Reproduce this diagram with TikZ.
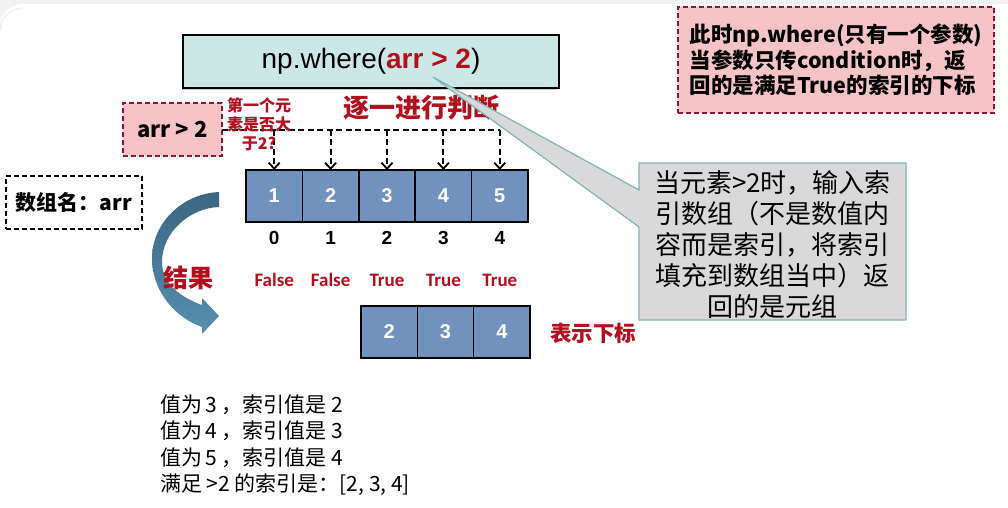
\documentclass[tikz,border=0pt]{standalone}
\usepackage{fontspec}
\setmainfont{Liberation Sans}
\newfontfamily\cjk{Noto Sans CJK SC}
\newfontfamily\calf{Carlito}
\usetikzlibrary{arrows.meta,calc}
\definecolor{dred}{RGB}{178,16,30}
\definecolor{pinkfill}{RGB}{246,196,198}
\definecolor{pinkedge}{RGB}{150,20,55}
\definecolor{tealfill}{RGB}{204,232,230}
\definecolor{cellblue}{RGB}{112,146,188}
\definecolor{calloutfill}{RGB}{217,217,217}
\definecolor{calloutedge}{RGB}{125,182,182}
\definecolor{arctop}{RGB}{58,102,128}
\definecolor{arcbot}{RGB}{88,142,176}
\begin{document}
\begin{tikzpicture}[x=1pt,y=-1pt,
  every node/.style={inner sep=0pt, outer sep=0pt},
  pinkbox/.style={draw=pinkedge, fill=pinkfill, line width=1.5pt, dash pattern=on 5pt off 3pt},
  namebox/.style={draw=black, line width=1.5pt, dash pattern=on 5pt off 3pt},
  wherebox/.style={draw=black, fill=tealfill, line width=1.6pt},
  cell/.style={draw=black, fill=cellblue, line width=1.5pt, minimum width=56.4pt, minimum height=52pt, text=white, font=\fontsize{20}{24}\selectfont\bfseries},
  idx/.style={font=\fontsize{19}{22}\selectfont\bfseries},
  tf/.style={text=dred, font=\calf\fontsize{19}{22}\selectfont\bfseries},
  dashline/.style={line width=2pt, dash pattern=on 6pt off 3.5pt},
  dasharrow/.style={dashline, -{Straight Barb[length=6pt,width=11pt,line width=1.8pt]}},
  redtext/.style={text=dred},
]
% background and frame
\useasboundingbox (0,0) rectangle (1008,507);
\fill[white] (0,0) rectangle (1008,507);
\fill[gray!10] (0,0) rectangle (1008,4);
\fill[gray!10] (0,0) rectangle (30,30);
\fill[white, rounded corners=22pt] (0.6,4) rectangle (1040,540);
\draw[gray!18, line width=0.8pt] (0.6,30) arc[start angle=180, end angle=270, x radius=22pt, y radius=-22pt];

% np.where box
\fill[gray!40] (181.5,36) rectangle (557,89.5);
\node[wherebox, minimum width=376pt, minimum height=53pt] (where) at (371,61.5)
  {\fontsize{28}{32}\selectfont np.where(\textcolor{dred}{\bfseries arr > 2})};

% note box top right
\node[pinkbox, minimum width=316pt, minimum height=106pt, align=left,
      font=\cjk\bfseries\fontsize{21.5}{25.5}\selectfont] (note) at (836,60)
  {此时np.where(只有一个参数)\\当参数只传condition时，返\\回的是满足True的索引的下标};

% arr > 2 box
\node[pinkbox, minimum width=99pt, minimum height=53pt, font=\cjk\bfseries\fontsize{22}{26}\selectfont] (gt) at (172.5,129.5)
  {arr > 2};

% name box
\node[namebox, minimum width=136pt, minimum height=53pt, font=\cjk\bfseries\fontsize{21}{25}\selectfont] (name) at (74,202.5)
  {数组名：arr};

% array cells
\foreach \i/\v in {1/1,2/2,3/3,4/4,5/5} {
  \node[cell] (c\i) at ({246+56.4*(\i-0.5)},196) {\v};
}
\foreach \i/\v in {1/0,2/1,3/2,4/3,5/4} {
  \node[idx] (i\i) at (c\i |- 0,238) {\v};
}
\foreach \i/\v in {1/False,2/False,3/True,4/True,5/True} {
  \node[tf] (t\i) at (c\i |- 0,280) {\v};
}

% result cells
\foreach \i/\v in {1/2,2/3,3/4} {
  \node[cell, minimum width=56.3pt] (r\i) at ({361+56.33*(\i-0.5)},332) {\v};
}
\node[redtext, font=\cjk\bfseries\fontsize{21.5}{25}\selectfont] (mark) at (593,333) {表示下标};

% dashed distribution lines
\draw[dashline] (gt.east) -- (c5.north |- gt.east);
\foreach \i in {1,...,5} {
  \draw[dasharrow] (c\i.north |- gt.east) -- (c\i.north);
}
\node[redtext, align=center, font=\cjk\bfseries\fontsize{16}{19}\selectfont] (first) at (259,124)
  {第一个元\\素是否大\\于2?};
\node[redtext, font=\cjk\bfseries\fontsize{26}{30}\selectfont] (each) at (421,108) {逐一进行判断};

% curved result arrow
\shade[top color=arctop, bottom color=arcbot]
  (219,192) .. controls (180,194) and (152,225) .. (152,258)
  .. controls (152,292) and (176,318) .. (202,327)
  -- (202,334) -- (219,316) -- (202,298) -- (202,305)
  .. controls (182,298) and (162,284) .. (162,262)
  .. controls (162,232) and (190,208) .. (219,207) -- cycle;
\node[redtext, font=\cjk\bfseries\fontsize{25}{30}\selectfont] (result) at (188,278) {结果};

% callout
\coordinate (cnw) at (639,163);
\coordinate (cse) at (906,320);
\coordinate (tip) at (433,77);
\filldraw[fill=calloutfill, draw=calloutedge, line width=1.2pt, line join=miter]
  (cnw) -- (cse |- cnw) -- (cse) -- (cnw |- cse) -- ($(cnw)+(0,64)$) -- (tip) -- ($(cnw)+(0,27)$) -- cycle;
\node[align=center, font=\cjk\fontsize{26}{31}\selectfont] (callout) at (772.5,245)
  {当元素>2时，输入索\\引数组（不是数值内\\容而是索引，将索引\\填充到数组当中）返\\回的是元组};

% bottom text
\node[anchor=west, align=left, font=\cjk\fontsize{21}{26.5}\selectfont] (out) at (160,445)
  {值为\,3 ，索引值是 2\\值为\,4 ，索引值是 3\\值为\,5 ，索引值是 4\\满足 >2 的索引是：[2, 3, 4]};
\end{tikzpicture}
\end{document}
